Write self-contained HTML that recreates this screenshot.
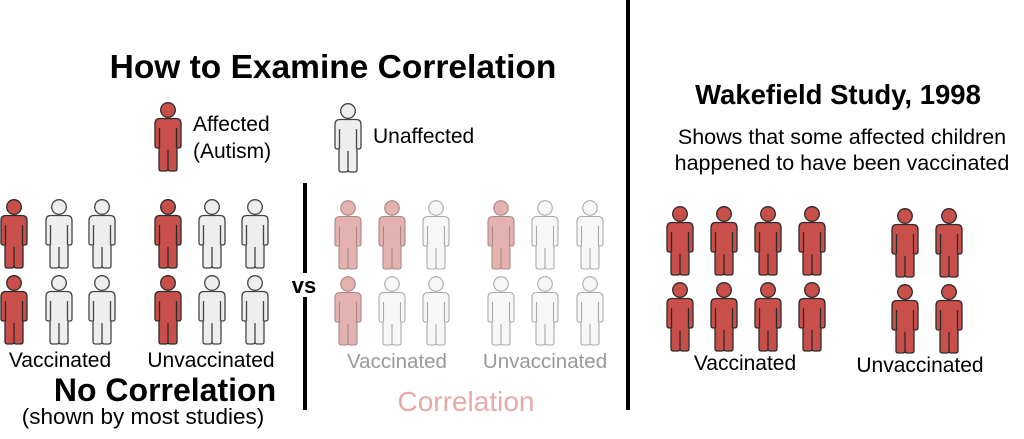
<!DOCTYPE html>
<html><head><meta charset="utf-8"><style>
html,body{margin:0;padding:0;background:#fff;}
svg text{font-family:"Liberation Sans",Arial,sans-serif;}
</style></head><body>
<svg width="1024" height="434" viewBox="0 0 1024 434" xmlns="http://www.w3.org/2000/svg">
<defs>
<g id="p">
<circle cx="14" cy="8" r="7.3"/>
<path d="M6,16.5 H22 Q27,16.5 27,21.5 V44 Q27,46 24.5,46 H23 V67 Q23,69 20.5,69 H16.5 Q14,69 14,67 V67 Q14,69 11.5,69 H7.5 Q5,69 5,67 V46 H3.5 Q1,46 1,44 V21.5 Q1,16.5 6,16.5 Z"/>
<path d="M5.5,26 V46 M22.5,26 V46 M14,48 V68" fill="none"/>
</g>
<g id="r" fill="#c9504a" stroke="#2b2b2b" stroke-width="1.3"><use href="#p"/></g>
<g id="w" fill="#eeeeee" stroke="#444" stroke-width="1.3"><use href="#p"/></g>
<g id="lr" fill="#e4b2ae" stroke="#a88" stroke-width="1.1"><use href="#p"/></g>
<g id="lw" fill="#f7f7f7" stroke="#aaa" stroke-width="1.1"><use href="#p"/></g>
</defs>

<text x="333" y="78" font-size="33.5" font-weight="bold" text-anchor="middle">How to Examine Correlation</text>

<use href="#r" x="154" y="102"/>
<text x="193" y="131" font-size="21">Affected</text>
<text x="193" y="158" font-size="21">(Autism)</text>
<use href="#w" x="334" y="103"/>
<text x="373" y="143" font-size="21">Unaffected</text>

<use href="#r" x="0" y="199"/><use href="#w" x="45" y="199"/><use href="#w" x="88" y="199"/>
<use href="#r" x="0" y="275"/><use href="#w" x="45" y="275"/><use href="#w" x="88" y="275"/>
<use href="#r" x="154" y="199"/><use href="#w" x="198" y="199"/><use href="#w" x="241" y="199"/>
<use href="#r" x="154" y="275"/><use href="#w" x="198" y="275"/><use href="#w" x="241" y="275"/>
<text x="60" y="367" font-size="21" text-anchor="middle">Vaccinated</text>
<text x="211" y="367" font-size="21" text-anchor="middle">Unvaccinated</text>
<text x="165" y="401" font-size="32" font-weight="bold" text-anchor="middle">No Correlation</text>
<text x="143" y="424" font-size="22.5" text-anchor="middle">(shown by most studies)</text>

<rect x="303" y="183" width="4" height="227" fill="#000"/>
<rect x="289" y="273" width="30" height="24" fill="#fff"/>
<text x="304" y="293" font-size="22" font-weight="bold" text-anchor="middle">vs</text>

<use href="#lr" x="334" y="200"/><use href="#lr" x="378" y="200"/><use href="#lw" x="422" y="200"/>
<use href="#lr" x="334" y="276"/><use href="#lw" x="378" y="276"/><use href="#lw" x="422" y="276"/>
<use href="#lr" x="487" y="200"/><use href="#lw" x="531" y="200"/><use href="#lw" x="576" y="200"/>
<use href="#lw" x="487" y="276"/><use href="#lw" x="531" y="276"/><use href="#lw" x="576" y="276"/>
<text x="397" y="368" font-size="20.5" text-anchor="middle" fill="#999">Vaccinated</text>
<text x="545" y="368" font-size="20.5" text-anchor="middle" fill="#999">Unvaccinated</text>
<text x="466" y="411" font-size="28" text-anchor="middle" fill="#e8aaa6">Correlation</text>

<rect x="626" y="0" width="4" height="410" fill="#000"/>

<text x="838" y="104" font-size="27.5" font-weight="bold" text-anchor="middle">Wakefield Study, 1998</text>
<text x="842" y="144" font-size="21.5" text-anchor="middle">Shows that some affected children</text>
<text x="842" y="170" font-size="21.5" text-anchor="middle">happened to have been vaccinated</text>
<use href="#r" x="666" y="206"/><use href="#r" x="710" y="206"/><use href="#r" x="754" y="206"/><use href="#r" x="798" y="206"/>
<use href="#r" x="666" y="282"/><use href="#r" x="710" y="282"/><use href="#r" x="754" y="282"/><use href="#r" x="798" y="282"/>
<use href="#r" x="891" y="208"/><use href="#r" x="935" y="208"/>
<use href="#r" x="891" y="284"/><use href="#r" x="935" y="284"/>
<text x="745" y="370" font-size="21" text-anchor="middle">Vaccinated</text>
<text x="920" y="372" font-size="21" text-anchor="middle">Unvaccinated</text>
</svg>
</body></html>
